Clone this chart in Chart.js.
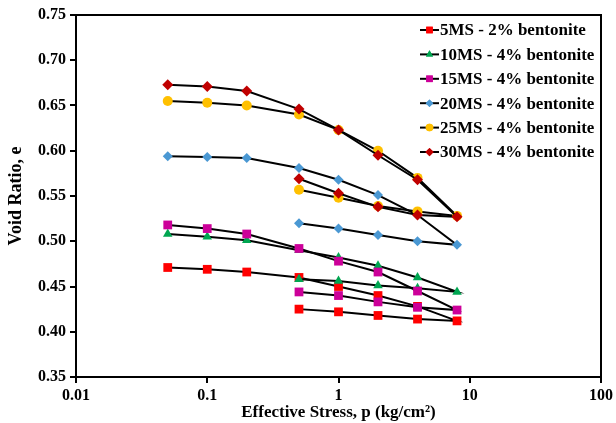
<!DOCTYPE html>
<html>
<head>
<meta charset="utf-8">
<script src="https://cdn.jsdelivr.net/npm/chart.js@4"></script>
<style>
  html, body { margin: 0; padding: 0; background: #fff; }
  #wrap { width: 616px; height: 423px; }
</style>
</head>
<body>
<div id="wrap"><canvas id="c" width="616" height="423"></canvas></div>
<script>
// stress path: loading then unloading (kg/cm2)
const stress = [0.05, 0.1, 0.2, 0.5, 1, 2, 4, 8, 4, 2, 1, 0.5];

const labels = ['5MS - 2% bentonite', '10MS - 4% bentonite', '15MS - 4% bentonite',
                '20MS - 4% bentonite', '25MS - 4% bentonite', '30MS - 4% bentonite'];

const ms5  = [0.471, 0.469, 0.466, 0.460, 0.450, 0.440, 0.428, 0.412, 0.414, 0.418, 0.422, 0.425];
const ms10 = [0.508, 0.505, 0.501, 0.490, 0.482, 0.473, 0.460, 0.444, 0.448, 0.451, 0.456, 0.458];
const ms15 = [0.518, 0.514, 0.508, 0.492, 0.478, 0.466, 0.445, 0.424, 0.427, 0.433, 0.440, 0.444];
const ms20 = [0.594, 0.593, 0.592, 0.581, 0.568, 0.551, 0.529, 0.496, 0.500, 0.507, 0.514, 0.520];
const ms25 = [0.655, 0.653, 0.650, 0.640, 0.623, 0.600, 0.570, 0.528, 0.533, 0.539, 0.548, 0.557];
const ms30 = [0.673, 0.671, 0.666, 0.646, 0.623, 0.595, 0.568, 0.527, 0.529, 0.538, 0.553, 0.569];

const xTicks = [0.01, 0.1, 1, 10, 100];

const series = [ms5, ms10, ms15, ms20, ms25, ms30];
const colors = ['#ff0000', '#00a651', '#cc0099', '#4a98d3', '#ffc000', '#c00000'];
const styles = ['rect', 'triangle', 'rect', 'rectRot', 'circle', 'rectRot'];
const radii  = [6.2, 5.5, 6.2, 5, 5, 5.5];

const FONT = '"Liberation Serif", "Times New Roman", serif';

const datasets = series.map((vals, i) => ({
    label: labels[i],
    data: vals.map((v, j) => ({ x: stress[j], y: v })),
    showLine: true,
    borderColor: '#000',
    borderWidth: 2,
    pointStyle: styles[i],
    pointRadius: radii[i],
    pointBackgroundColor: colors[i],
    pointBorderColor: colors[i],
    pointBorderWidth: 0,
    order: series.length - 1 - i
}));

// box around plot + legend inside it
const frameAndLegend = {
    id: 'frameAndLegend',
    afterDatasetsDraw(chart) {
        const { ctx, chartArea: a } = chart;
        ctx.save();
        ctx.strokeStyle = '#000';
        ctx.lineWidth = 2;
        ctx.beginPath();
        ctx.moveTo(a.left, a.top);
        ctx.lineTo(a.right, a.top);
        ctx.lineTo(a.right, a.bottom);
        ctx.stroke();

        ctx.font = 'bold 17px ' + FONT;
        ctx.textBaseline = 'middle';
        ctx.textAlign = 'left';
        labels.forEach((lab, i) => {
            const y = 30 + i * 24.4;
            ctx.strokeStyle = '#000';
            ctx.lineWidth = 2;
            ctx.beginPath();
            ctx.moveTo(420, y);
            ctx.lineTo(439, y);
            ctx.stroke();
            ctx.fillStyle = colors[i];
            Chart.helpers.drawPoint(ctx, { pointStyle: styles[i], radius: radii[i] * 0.75, borderWidth: 0 }, 429.5, y);
            ctx.fill();
            ctx.fillStyle = '#000';
            ctx.fillText(lab, 440, y + 1);
        });
        ctx.restore();
    }
};

new Chart(document.getElementById('c'), {
    type: 'scatter',
    data: { datasets },
    options: {
        responsive: false,
        animation: false,
        layout: { padding: { top: 15, right: 13, left: 0, bottom: 0 } },
        plugins: { legend: { display: false }, tooltip: { enabled: false } },
        scales: {
            x: {
                type: 'logarithmic',
                min: 0.01,
                max: 100,
                afterBuildTicks: s => { s.ticks = xTicks.map(v => ({ value: v })); },
                afterFit: s => { s.height = 46; },
                ticks: {
                    color: '#000',
                    font: { family: FONT, size: 16, weight: 'bold' },
                    padding: 3,
                    maxRotation: 0,
                    autoSkip: false,
                    callback: v => String(v)
                },
                grid: { drawOnChartArea: false, color: '#000', tickLength: 6, lineWidth: 2 },
                border: { color: '#000', width: 2 },
                title: {
                    display: true,
                    text: 'Effective Stress, p (kg/cm²)',
                    color: '#000',
                    font: { family: FONT, size: 17, weight: 'bold' },
                    padding: { top: -8, bottom: 0 }
                }
            },
            y: {
                min: 0.35,
                max: 0.75,
                afterFit: s => { s.width = 76; },
                ticks: {
                    stepSize: 0.05,
                    color: '#000',
                    font: { family: FONT, size: 16, weight: 'bold' },
                    padding: 4,
                    callback: v => v.toFixed(2)
                },
                grid: { drawOnChartArea: false, color: '#000', tickLength: 6, lineWidth: 2 },
                border: { color: '#000', width: 2 },
                title: {
                    display: true,
                    text: 'Void Ratio, e',
                    color: '#000',
                    font: { family: FONT, size: 18, weight: 'bold' },
                    padding: { top: 6, bottom: 0 }
                }
            }
        }
    },
    plugins: [frameAndLegend]
});
</script>
</body>
</html>
